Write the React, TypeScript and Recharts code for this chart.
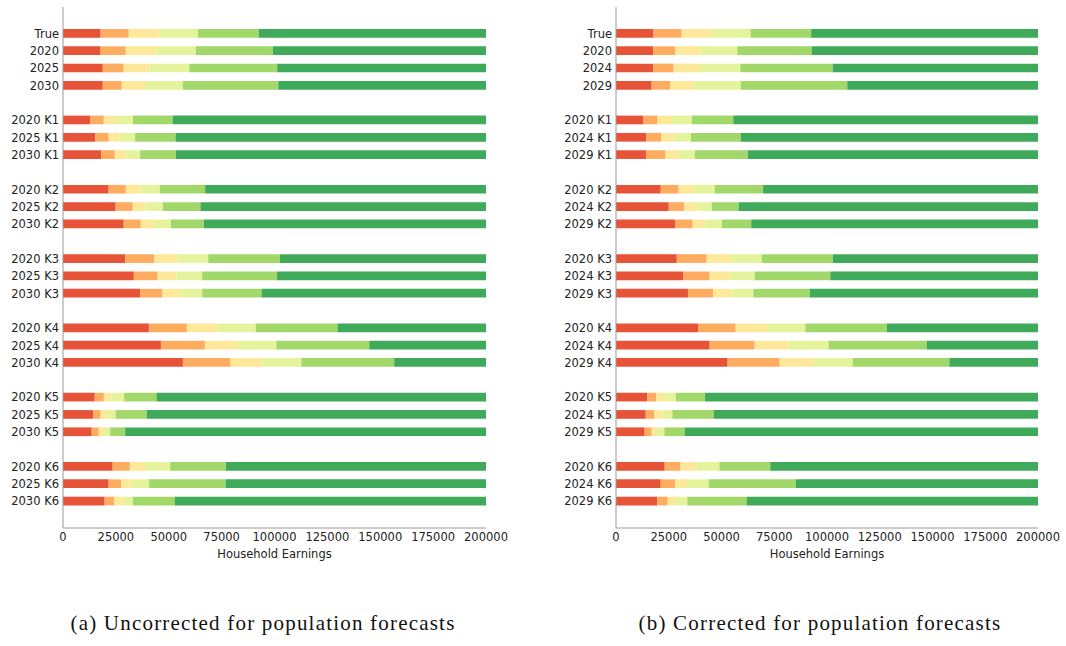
import React from 'react';
import { BarChart, Bar, XAxis, YAxis } from 'recharts';

// upper edge of each earnings band (the last band runs to the axis end)
const AXIS_MAX = 200000;
const xTicks = [0, 25000, 50000, 75000, 100000, 125000, 150000, 175000, 200000];

// rows per block: True + three overall forecasts, then K1..K6 in threes
const groupSizes = [4, 3, 3, 3, 3, 3, 3];

const uncorrectedLabels = [
  'True', '2020', '2025', '2030',
  '2020 K1', '2025 K1', '2030 K1',
  '2020 K2', '2025 K2', '2030 K2',
  '2020 K3', '2025 K3', '2030 K3',
  '2020 K4', '2025 K4', '2030 K4',
  '2020 K5', '2025 K5', '2030 K5',
  '2020 K6', '2025 K6', '2030 K6',
];

const uncorrectedCuts = [
  [17800, 31100, 45500, 63800, 92500],
  [17800, 29700, 43700, 62800, 99300],
  [18800, 28700, 40900, 59700, 101300],
  [18800, 27800, 38800, 56700, 101800],
  [12800, 19300, 24600, 33100, 51900],
  [15300, 21600, 26700, 34100, 53200],
  [18000, 24500, 30000, 36500, 53400],
  [21600, 29700, 36600, 45800, 67200],
  [24900, 33000, 39000, 47200, 65000],
  [28700, 36800, 43400, 51000, 66600],
  [29500, 43100, 54000, 68700, 102600],
  [33500, 44800, 53800, 65800, 101200],
  [36500, 47000, 55200, 65800, 93900],
  [40600, 58600, 72900, 91100, 129800],
  [46300, 67100, 82200, 100900, 144800],
  [56700, 79200, 94400, 112700, 156600],
  [15000, 19300, 23000, 28900, 44200],
  [14400, 17800, 20800, 24900, 39600],
  [13600, 16900, 19400, 22300, 29400],
  [23500, 31600, 39100, 50700, 77000],
  [21600, 27500, 33000, 40700, 76900],
  [19700, 24300, 28300, 33000, 52900],
];

const correctedLabels = [
  'True', '2020', '2024', '2029',
  '2020 K1', '2024 K1', '2029 K1',
  '2020 K2', '2024 K2', '2029 K2',
  '2020 K3', '2024 K3', '2029 K3',
  '2020 K4', '2024 K4', '2029 K4',
  '2020 K5', '2024 K5', '2029 K5',
  '2020 K6', '2024 K6', '2029 K6',
];

const correctedCuts = [
  [17800, 31100, 45500, 63800, 92500],
  [17700, 28000, 40100, 57500, 92700],
  [17700, 27300, 39300, 58900, 102700],
  [16900, 25600, 36800, 59100, 109600],
  [13000, 19700, 26500, 35900, 55600],
  [14400, 21500, 27300, 35500, 59100],
  [14200, 23500, 29900, 37400, 62400],
  [21200, 29700, 37000, 46800, 69700],
  [25000, 32400, 38200, 45300, 58100],
  [28000, 36300, 42300, 50200, 64100],
  [28800, 43000, 54000, 69000, 102800],
  [31800, 44400, 53700, 65700, 101600],
  [34100, 46100, 54700, 65100, 91800],
  [38900, 56700, 71600, 89700, 128300],
  [44400, 65700, 81700, 100800, 147200],
  [52900, 77600, 93500, 112200, 158000],
  [14800, 19100, 23100, 28400, 42200],
  [14100, 18200, 22000, 26700, 46300],
  [13600, 16900, 19300, 22900, 32500],
  [23100, 30600, 38200, 49000, 73100],
  [21200, 28000, 33600, 44000, 85200],
  [19600, 24500, 28300, 33800, 61900],
];

const bandColors = ['#e75337', '#fdac60', '#fee899', '#e5f49c', '#a2d86a', '#3faa59'];
const bandKeys = ['b0', 'b1', 'b2', 'b3', 'b4', 'b5'];

type Row = { key: string; label: string; [k: string]: number | string | undefined };

// turn band edges into stacked widths, with an empty row between blocks
function buildRows(labels: string[], cuts: number[][]): Row[] {
  const rows: Row[] = [];
  let i = 0;
  groupSizes.forEach((size, g) => {
    if (g > 0) rows.push({ key: `gap${g}`, label: '' });
    for (let j = 0; j < size; j++, i++) {
      const edges = [0, ...cuts[i], AXIS_MAX];
      const row: Row = { key: `r${i}`, label: labels[i] };
      bandKeys.forEach((k, b) => {
        row[k] = edges[b + 1] - edges[b];
      });
      rows.push(row);
    }
  });
  return rows;
}

const FRAME = '#999999';
const TEXT = '#222222';
const FONT_SIZE = 11.5;

interface PanelProps {
  rows: Row[];
  left: number;
  width: number;
  marginRight: number;
}

const Panel: React.FC<PanelProps> = ({ rows, left, width, marginRight }) => {
  const labelOf: Record<string, string> = {};
  rows.forEach((r) => (labelOf[r.key] = r.label));

  // plain single-line label so "2020 K1" never wraps
  const RowTick = (props: any) => {
    const { x, y, payload } = props;
    return (
      <text x={x} y={y} dy="0.355em" textAnchor="end" fill={TEXT} fontSize={FONT_SIZE}>
        {labelOf[payload.value] ?? ''}
      </text>
    );
  };

  return (
    <div style={{ position: 'absolute', left, top: 0 }}>
      <BarChart
        width={width}
        height={570}
        data={rows}
        layout="vertical"
        barCategoryGap={0}
        margin={{ top: 7, right: marginRight, bottom: 12, left: 8 }}
      >
        <XAxis
          type="number"
          domain={[0, AXIS_MAX]}
          ticks={xTicks}
          allowDataOverflow
          stroke={FRAME}
          tickLine={false}
          tickSize={4}
          tickMargin={1}
          height={30}
          tick={{ fill: TEXT, fontSize: FONT_SIZE }}
          label={{ value: 'Household Earnings', position: 'insideBottom', offset: 0, fill: TEXT, fontSize: FONT_SIZE }}
        />
        <XAxis
          xAxisId="top"
          orientation="top"
          type="number"
          domain={[0, AXIS_MAX]}
          stroke={FRAME}
          tick={false}
          tickLine={false}
          height={0}
        />
        <YAxis
          type="category"
          dataKey="key"
          width={55}
          interval={0}
          stroke={FRAME}
          tickLine={false}
          tickSize={0}
          tickMargin={4}
          padding={{ top: 18, bottom: 18 }}
          tick={<RowTick />}
        />
        <YAxis
          yAxisId="right"
          orientation="right"
          type="category"
          dataKey="key"
          width={0}
          stroke={FRAME}
          tick={false}
          tickLine={false}
          padding={{ top: 18, bottom: 18 }}
        />
        {bandKeys.map((k, b) => (
          <Bar key={k} dataKey={k} stackId="earn" fill={bandColors[b]} barSize={8.7} isAnimationActive={false} />
        ))}
      </BarChart>
    </div>
  );
};

const captionStyle: React.CSSProperties = {
  position: 'absolute',
  top: 611,
  fontFamily: '"Liberation Serif", serif',
  fontSize: 21,
  letterSpacing: 1.2,
  color: '#111',
  whiteSpace: 'nowrap',
  transform: 'translateX(-50%)',
};

export default function App() {
  const left = buildRows(uncorrectedLabels, uncorrectedCuts);
  const right = buildRows(correctedLabels, correctedCuts);
  return (
    <div
      style={{
        position: 'absolute',
        left: 0,
        top: 0,
        width: 1066,
        height: 646,
        background: '#fff',
        fontFamily: '"DejaVu Sans", sans-serif',
        overflow: 'hidden',
      }}
    >
      <Panel rows={left} left={0} width={540} marginRight={54} />
      <Panel rows={right} left={553} width={511} marginRight={26} />
      <div style={{ ...captionStyle, left: 263 }}>(a) Uncorrected for population forecasts</div>
      <div style={{ ...captionStyle, left: 820 }}>(b) Corrected for population forecasts</div>
    </div>
  );
}
